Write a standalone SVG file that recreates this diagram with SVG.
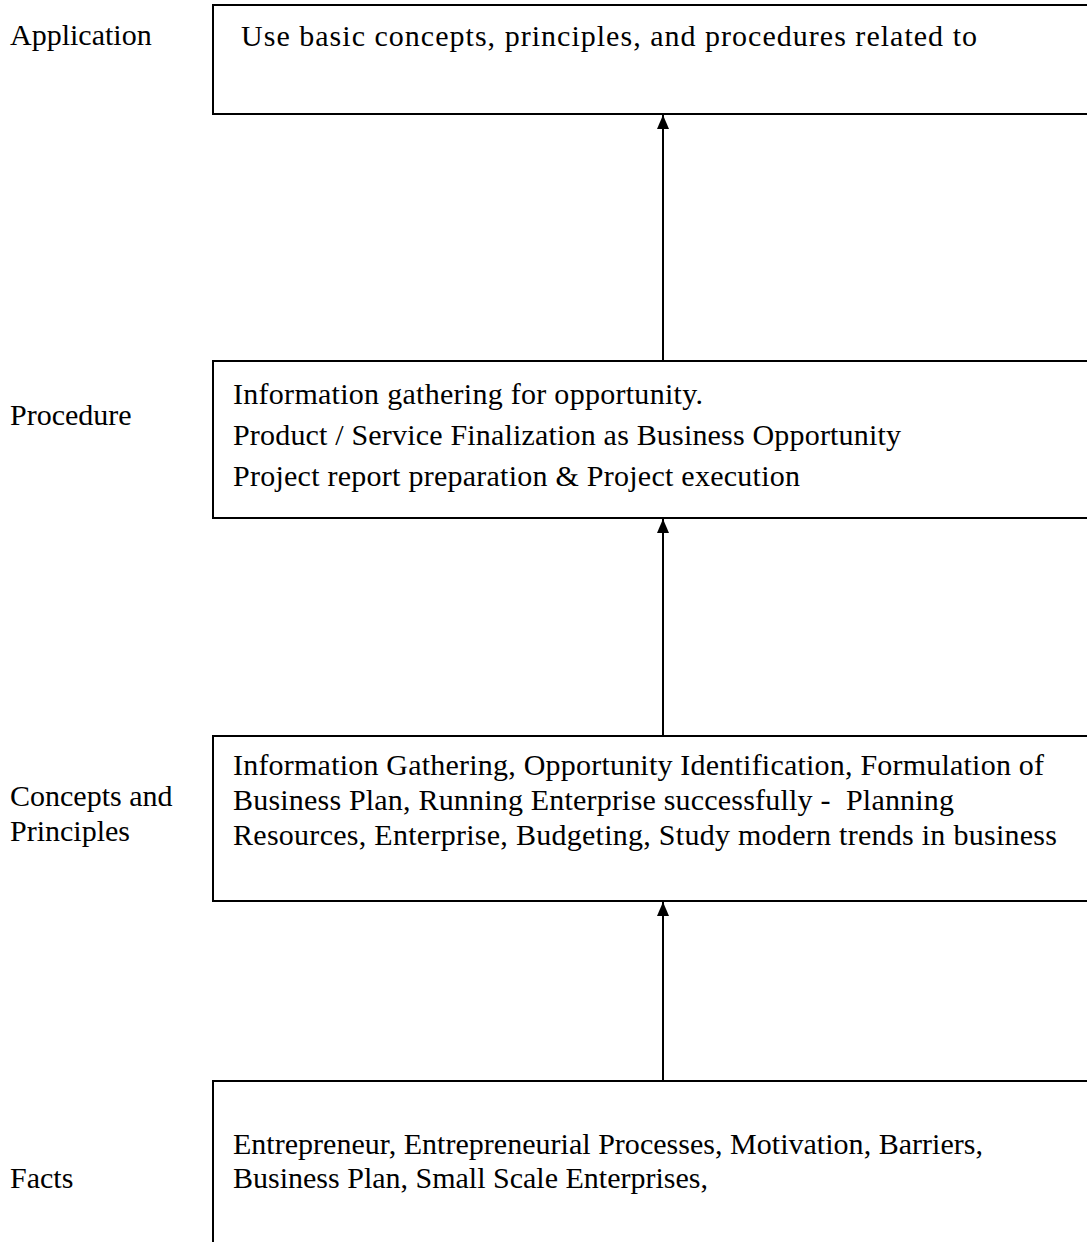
<svg xmlns="http://www.w3.org/2000/svg" width="1087" height="1242" viewBox="0 0 1087 1242">
<style>
text{font-family:"Liberation Serif","Times New Roman",serif;font-size:30px;fill:#000}
.box{fill:#fff;stroke:#000;stroke-width:2}
.conn{stroke:#000;stroke-width:2;fill:none}
</style>
<defs>
<marker id="ah" viewBox="0 0 14 12" refX="14" refY="6" markerWidth="14" markerHeight="12" markerUnits="userSpaceOnUse" orient="auto">
<path d="M0,0 L14,6 L0,12 Z" fill="#000"/>
</marker>
</defs>
<rect width="1087" height="1242" fill="#fff"/>
<g id="labels">
<text x="10" y="45">Application</text>
<text x="10" y="425">Procedure</text>
<text x="10" y="806">Concepts and</text>
<text x="10" y="841">Principles</text>
<text x="10" y="1188">Facts</text>
</g>
<g id="connectors">
<line class="conn" x1="663" y1="360" x2="663" y2="115" marker-end="url(#ah)"/>
<line class="conn" x1="663" y1="735" x2="663" y2="519" marker-end="url(#ah)"/>
<line class="conn" x1="663" y1="1080" x2="663" y2="902" marker-end="url(#ah)"/>
</g>
<g id="application">
<rect class="box" x="213" y="5" width="900" height="109"/>
<text x="241" y="46" textLength="736" lengthAdjust="spacing">Use basic concepts, principles, and procedures related to</text>
</g>
<g id="procedure">
<rect class="box" x="213" y="361" width="900" height="157"/>
<text x="233" y="404" textLength="470" lengthAdjust="spacing">Information gathering for opportunity.</text>
<text x="233" y="445" textLength="668" lengthAdjust="spacing">Product / Service Finalization as Business Opportunity</text>
<text x="233" y="486" textLength="567" lengthAdjust="spacing">Project report preparation &amp; Project execution</text>
</g>
<g id="concepts">
<rect class="box" x="213" y="736" width="900" height="165"/>
<text x="233" y="775" textLength="811" lengthAdjust="spacing">Information Gathering, Opportunity Identification, Formulation of</text>
<text x="233" y="810" textLength="721" lengthAdjust="spacing">Business Plan, Running Enterprise successfully -&#160; Planning</text>
<text x="233" y="845" textLength="824" lengthAdjust="spacing">Resources, Enterprise, Budgeting, Study modern trends in business</text>
</g>
<g id="facts">
<rect class="box" x="213" y="1081" width="900" height="200"/>
<text x="233" y="1154" textLength="750" lengthAdjust="spacing">Entrepreneur, Entrepreneurial Processes, Motivation, Barriers,</text>
<text x="233" y="1188" textLength="475" lengthAdjust="spacing">Business Plan, Small Scale Enterprises,</text>
</g>
</svg>
